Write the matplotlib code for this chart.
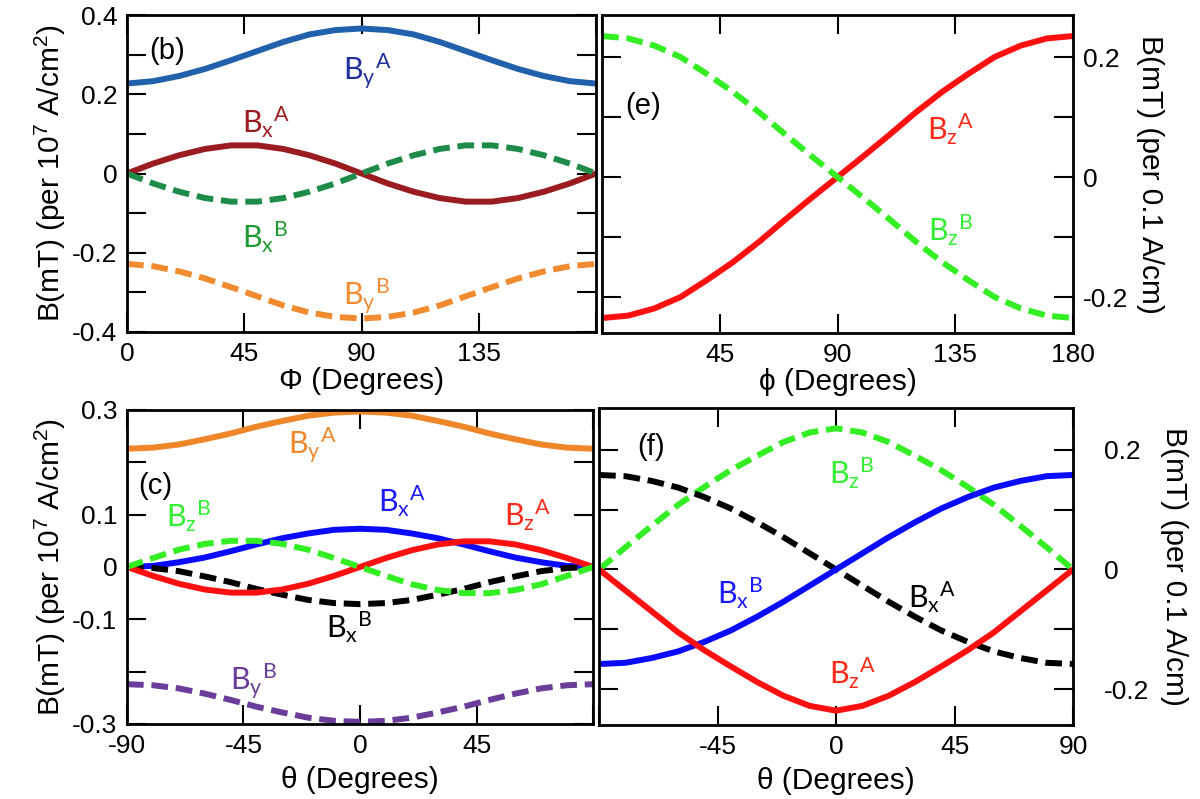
import matplotlib.pyplot as plt
import numpy as np

plt.rcParams['font.family'] = ['Liberation Sans', 'DejaVu Sans']
plt.rcParams['mathtext.default'] = 'regular'

# panel (b): phi in degrees
phi = [0, 10, 20, 30, 40, 50, 60, 70, 80, 90, 100, 110, 120, 130, 140, 150, 160, 170, 180]
b_by_a = [0.227, 0.233, 0.246, 0.264, 0.286, 0.309, 0.332, 0.351, 0.362, 0.366,
          0.362, 0.351, 0.332, 0.309, 0.286, 0.264, 0.246, 0.233, 0.227]
b_bx_a = [0, 0.025, 0.046, 0.062, 0.071, 0.071, 0.062, 0.046, 0.025, 0,
          -0.025, -0.046, -0.062, -0.071, -0.071, -0.062, -0.046, -0.025, 0]
b_bx_b = [0, -0.025, -0.046, -0.062, -0.071, -0.071, -0.062, -0.046, -0.025, 0,
          0.025, 0.046, 0.062, 0.071, 0.071, 0.062, 0.046, 0.025, 0]
b_by_b = [-0.228, -0.234, -0.247, -0.265, -0.287, -0.310, -0.333, -0.351, -0.362, -0.366,
          -0.362, -0.351, -0.333, -0.310, -0.287, -0.265, -0.247, -0.234, -0.228]

# panel (e)
e_bz_a = [-0.235, -0.231, -0.219, -0.200, -0.172, -0.142, -0.108, -0.071, -0.035, 0,
          0.035, 0.071, 0.108, 0.142, 0.172, 0.200, 0.219, 0.231, 0.235]
e_bz_b = [0.235, 0.231, 0.219, 0.200, 0.172, 0.142, 0.108, 0.071, 0.035, 0,
          -0.035, -0.071, -0.108, -0.142, -0.172, -0.200, -0.219, -0.231, -0.235]

# panel (c): theta in degrees
theta = [-90, -80, -70, -60, -50, -40, -30, -20, -10, 0, 10, 20, 30, 40, 50, 60, 70, 80, 90]
c_by_a = [0.226, 0.228, 0.234, 0.244, 0.255, 0.268, 0.279, 0.289, 0.295, 0.297,
          0.295, 0.289, 0.279, 0.268, 0.255, 0.244, 0.234, 0.228, 0.226]
c_by_b = [-0.224, -0.226, -0.232, -0.242, -0.254, -0.267, -0.278, -0.288, -0.294, -0.296,
          -0.294, -0.288, -0.278, -0.267, -0.254, -0.242, -0.232, -0.226, -0.224]
c_bx_a = [0, 0.002, 0.009, 0.018, 0.030, 0.043, 0.055, 0.064, 0.071, 0.073,
          0.071, 0.064, 0.055, 0.043, 0.030, 0.018, 0.009, 0.002, 0]
c_bx_b = [0, -0.002, -0.008, -0.018, -0.029, -0.042, -0.053, -0.063, -0.069, -0.071,
          -0.069, -0.063, -0.053, -0.042, -0.029, -0.018, -0.008, -0.002, 0]
c_bz_a = [0, -0.017, -0.032, -0.043, -0.049, -0.049, -0.043, -0.032, -0.017, 0,
          0.017, 0.032, 0.043, 0.049, 0.049, 0.043, 0.032, 0.017, 0]
c_bz_b = [0, 0.017, 0.033, 0.044, 0.050, 0.050, 0.044, 0.033, 0.017, 0,
          -0.017, -0.033, -0.044, -0.050, -0.050, -0.044, -0.033, -0.017, 0]

# panel (f)
f_bz_b = [0, 0.037, 0.073, 0.108, 0.138, 0.166, 0.190, 0.213, 0.229, 0.236,
          0.229, 0.213, 0.190, 0.166, 0.138, 0.108, 0.073, 0.037, 0]
f_bz_a = [0, -0.035, -0.070, -0.105, -0.135, -0.162, -0.188, -0.211, -0.228, -0.236,
          -0.228, -0.211, -0.188, -0.162, -0.135, -0.105, -0.070, -0.035, 0]
f_bx_b = [-0.158, -0.156, -0.148, -0.137, -0.121, -0.102, -0.079, -0.054, -0.027, 0,
          0.027, 0.054, 0.079, 0.102, 0.121, 0.137, 0.148, 0.156, 0.158]
f_bx_a = [0.158, 0.156, 0.148, 0.137, 0.121, 0.102, 0.079, 0.054, 0.027, 0,
          -0.027, -0.054, -0.079, -0.102, -0.121, -0.137, -0.148, -0.156, -0.158]

LW = 4.3
DASH = (2.8, 1.3)
TFS = 19
LFS = 21.5


def style(ax):
    for s in ax.spines.values():
        s.set_linewidth(2)
    ax.tick_params(direction='in', length=14, width=1.5, top=True, bottom=True,
                   left=True, right=True, labelsize=TFS, pad=7)


def lab(ax, x, y, sub, sup, c):
    ax.text(x, y, r'$\mathregular{B_%s{}^%s}$' % (sub, sup), color=c,
            fontsize=22, family='Lato', ha='left', va='baseline')


fig = plt.figure(figsize=(12, 7.99), dpi=100)

# (b)
ax = fig.add_axes([0.1058, 0.5845, 0.3909, 0.3967])
ax.plot(phi, b_by_a, c='#2160aa', lw=LW)
ax.plot(phi, b_bx_a, c='#9b1c20', lw=LW)
ax.plot(phi, b_bx_b, c='#1e8c48', lw=LW, ls='--', dashes=DASH)
ax.plot(phi, b_by_b, c='#f28a30', lw=LW, ls='--', dashes=DASH)
ax.set_xlim(0, 180)
ax.set_ylim(-0.4, 0.4)
ax.set_xticks([0, 45, 90, 135, 180], ['0', '45', '90', '135', ''])
ax.set_yticks(np.arange(-4, 5) / 10,
              ['-0.4', '', '-0.2', '', '0', '', '0.2', '', '0.4'])
style(ax)
ax.set_xlabel('Φ (Degrees)', fontsize=LFS, labelpad=1)
ax.set_ylabel(r'B(mT) (per 10$^7$ A/cm$^2$)', fontsize=LFS, labelpad=3)
ax.text(8.5, 0.31, '(b)', fontsize=21, va='center')
lab(ax, 83, 0.236, 'y', 'A', '#1f2f9e')
lab(ax, 44, 0.102, 'x', 'A', '#9b1c20')
lab(ax, 44, -0.188, 'x', 'B', '#1f9a32')
lab(ax, 83, -0.332, 'y', 'B', '#f28a30')

# (e)
ax = fig.add_axes([0.5017, 0.5832, 0.3925, 0.398])
ax.plot(phi, e_bz_a, c='#ff1010', lw=LW)
ax.plot(phi, e_bz_b, c='#33ee22', lw=LW, ls='--', dashes=DASH)
ax.set_xlim(0, 180)
ax.set_ylim(-0.26, 0.27)
ax.set_xticks([0, 45, 90, 135, 180], ['', '45', '90', '135', '180'])
ax.set_yticks(np.arange(-2, 3) / 10, ['-0.2', '', '0', '', '0.2'])
style(ax)
ax.yaxis.tick_right()
ax.tick_params(left=True, right=True, labelleft=False, labelright=True)
ax.yaxis.set_label_position('right')
ax.set_xlabel('ϕ (Degrees)', fontsize=LFS, labelpad=1)
ax.set_ylabel('B(mT) (per 0.1 A/cm)', fontsize=LFS, rotation=270, labelpad=26)
ax.text(8.8, 0.118, '(e)', fontsize=21, va='center')
lab(ax, 124, 0.062, 'z', 'A', '#ff2a1a')
lab(ax, 124.6, -0.107, 'z', 'B', '#33ee33')

# (c)
ax = fig.add_axes([0.1058, 0.0939, 0.3884, 0.393])
ax.plot(theta, c_by_a, c='#f0862a', lw=LW)
ax.plot(theta, c_by_b, c='#6a3d9a', lw=LW, ls='--', dashes=DASH)
ax.plot(theta, c_bx_a, c='#0a0aff', lw=LW)
ax.plot(theta, c_bx_b, c='black', lw=LW, ls='--', dashes=DASH)
ax.plot(theta, c_bz_a, c='#ff1010', lw=LW)
ax.plot(theta, c_bz_b, c='#33ee22', lw=LW, ls='--', dashes=DASH)
ax.set_xlim(-90, 90)
ax.set_ylim(-0.3, 0.3)
ax.set_xticks([-90, -45, 0, 45, 90], ['-90', '-45', '0', '45', ''])
ax.set_yticks(np.arange(-3, 4) / 10,
              ['-0.3', '', '-0.1', '0', '0.1', '', '0.3'])
style(ax)
ax.set_xlabel('θ (Degrees)', fontsize=LFS, labelpad=6)
ax.set_ylabel(r'B(mT) (per 10$^7$ A/cm$^2$)', fontsize=LFS, labelpad=3)
ax.text(-85.5, 0.155, '(c)', fontsize=21, va='center')
lab(ax, -27.9, 0.216, 'y', 'A', '#f0862a')
lab(ax, -74.9, 0.076, 'z', 'B', '#33ee33')
lab(ax, 6.8, 0.104, 'x', 'A', '#1a1aff')
lab(ax, 55.6, 0.078, 'z', 'A', '#ff2a1a')
lab(ax, -13.1, -0.136, 'x', 'B', 'black')
lab(ax, -50.1, -0.235, 'y', 'B', '#6a3d9a')

# (f)
ax = fig.add_axes([0.4992, 0.0926, 0.395, 0.3968])
ax.plot(theta, f_bz_b, c='#33ee22', lw=LW, ls='--', dashes=DASH)
ax.plot(theta, f_bx_a, c='black', lw=LW, ls='--', dashes=DASH)
ax.plot(theta, f_bx_b, c='#0a0aff', lw=LW)
ax.plot(theta, f_bz_a, c='#ff1010', lw=LW)
ax.set_xlim(-90, 90)
ax.set_ylim(-0.26, 0.27)
ax.set_xticks([-90, -45, 0, 45, 90], ['', '-45', '0', '45', '90'])
ax.set_yticks(np.arange(-2, 3) / 10, ['-0.2', '', '0', '', '0.2'])
style(ax)
ax.yaxis.tick_right()
ax.tick_params(left=True, right=True, labelleft=False, labelright=True)
ax.tick_params(axis='y', pad=22)
ax.yaxis.set_label_position('right')
ax.set_xlabel('θ (Degrees)', fontsize=LFS, labelpad=6)
ax.set_ylabel('B(mT) (per 0.1 A/cm)', fontsize=LFS, rotation=270, labelpad=28)
ax.text(-75.6, 0.205, '(f)', fontsize=21, va='center')
lab(ax, -2.8, 0.142, 'z', 'B', '#33ee33')
lab(ax, -45.3, -0.058, 'x', 'B', '#1a1aff')
lab(ax, 27.3, -0.065, 'x', 'A', 'black')
lab(ax, -2.8, -0.192, 'z', 'A', '#ff2a1a')

fig.savefig('out.png', dpi=100)
